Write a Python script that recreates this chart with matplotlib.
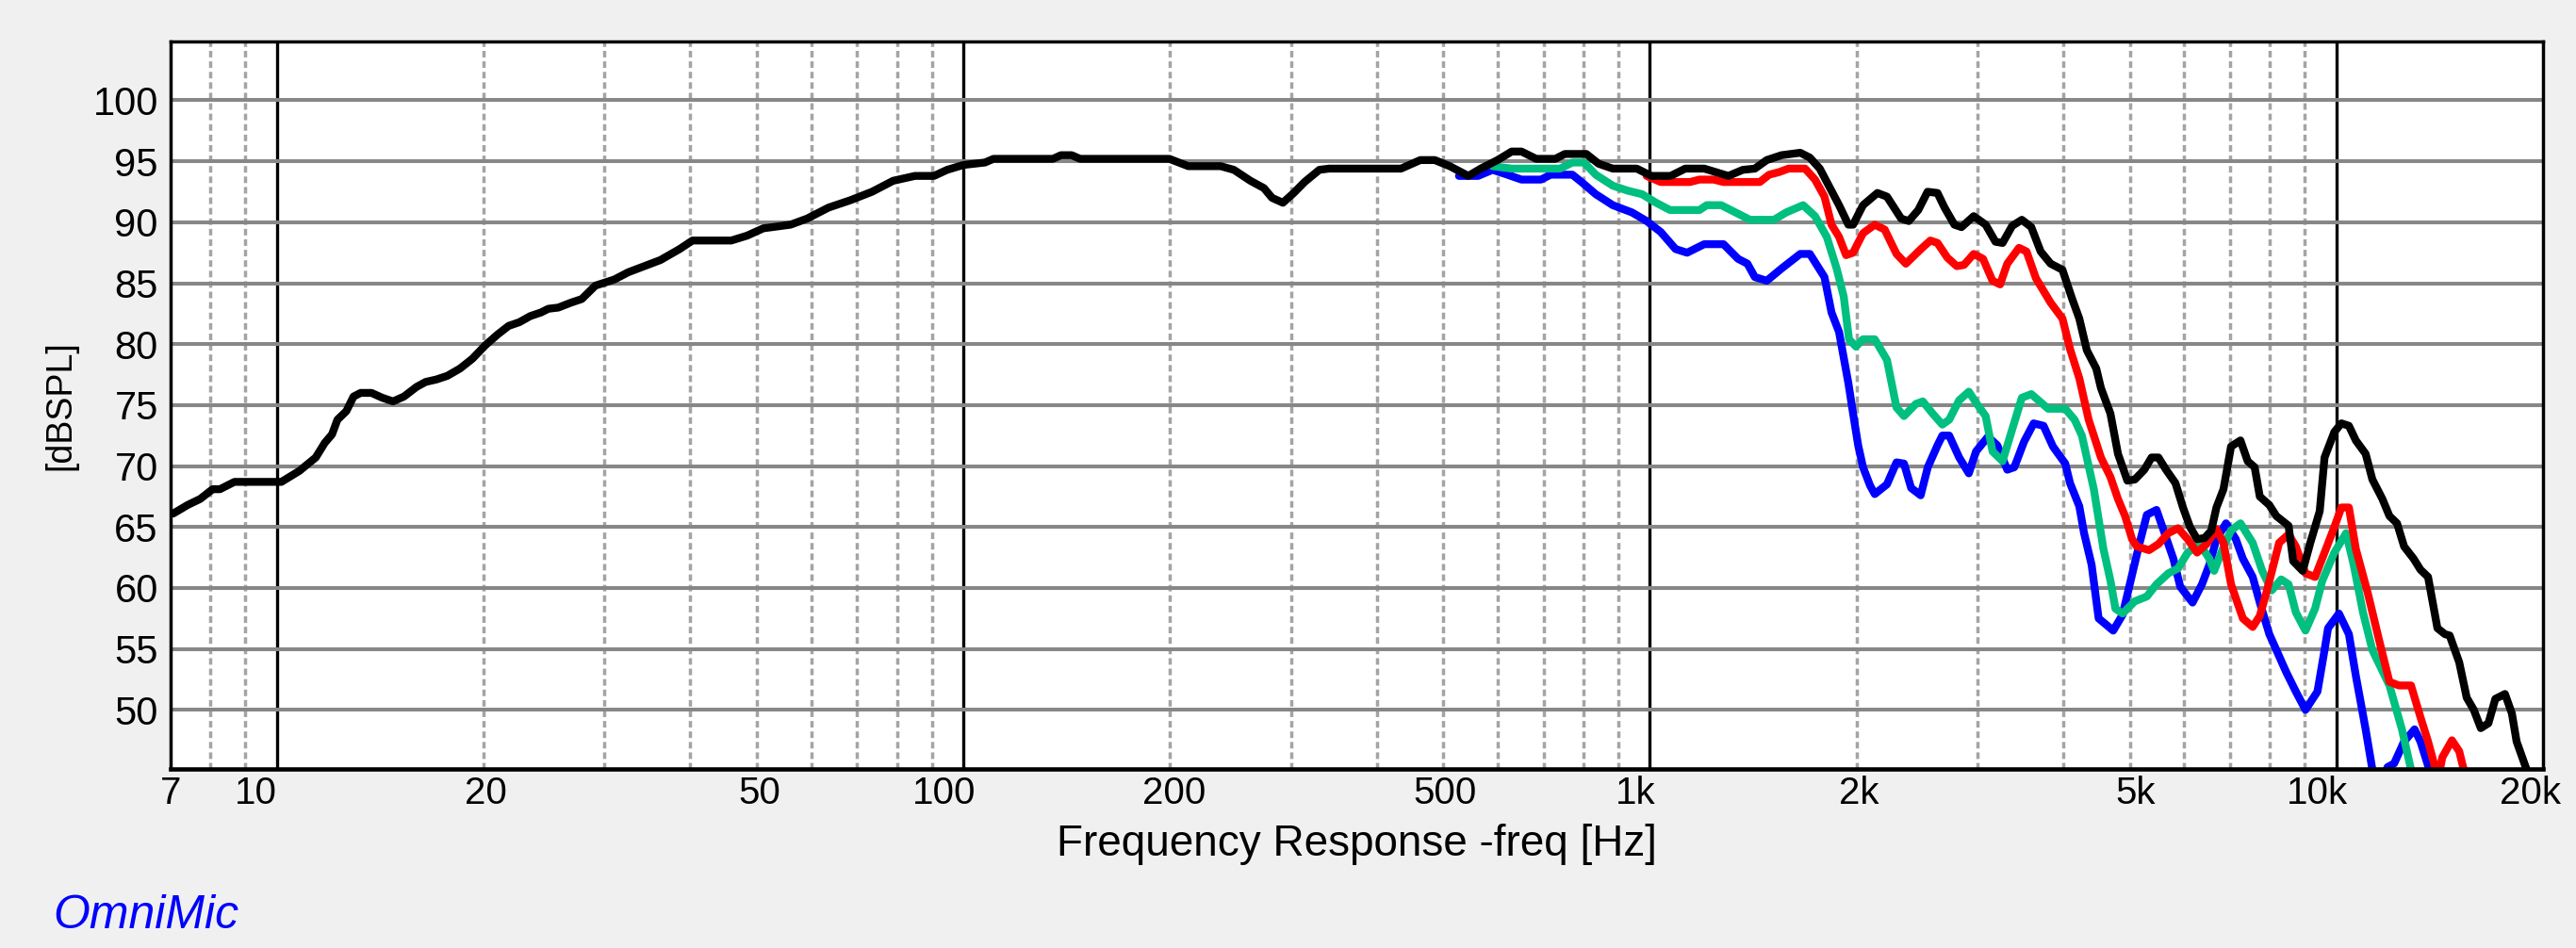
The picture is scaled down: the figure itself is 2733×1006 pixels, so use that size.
import matplotlib
matplotlib.use('Agg')
import matplotlib.pyplot as plt
from matplotlib import transforms
from matplotlib.ticker import FixedLocator, NullFormatter

plt.rcParams['font.family'] = ['Liberation Sans', 'DejaVu Sans']

# ---------------- data ----------------
black_f = [7.06, 7.41, 7.73, 8.06, 8.26, 8.67, 8.99, 10.15, 10.78, 11.39, 11.74, 12.03, 12.25, 12.62, 12.93, 13.24,
           13.73, 14.24, 14.76, 15.31, 15.98, 16.47, 17.07, 17.71, 18.48, 19.26, 20.11, 20.97, 21.76, 22.55, 23.39,
           24.25, 24.85, 25.7, 26.8, 27.8, 29.1, 31.0, 32.5, 34.3, 36.2, 38.6, 40.3, 45.9, 48.4, 51.1, 56.0, 59.2,
           63.6, 68.4, 73.6, 79.0, 85.0, 90.6, 94.7, 100, 107.5, 110.6, 135, 138.7, 143.8, 147.9, 199.5, 212.6, 237,
           247.7, 261.9, 274, 281.6, 292, 302.8, 314, 330, 341, 434, 463, 486, 511, 544, 567, 600, 629, 650, 683, 728,
           752, 808, 842, 883, 957, 1005, 1072, 1126, 1200, 1301, 1366, 1422, 1480, 1555, 1656, 1710, 1768, 1826,
           1886, 1946, 1977, 2044, 2145, 2215, 2323, 2383, 2460, 2538, 2624, 2687, 2777, 2844, 2963, 3084, 3187, 3264,
           3371, 3482, 3594, 3709, 3835, 3990, 4123, 4222, 4330, 4469, 4540, 4687, 4807, 4961, 5088, 5251, 5380, 5506,
           5648, 5829, 5978, 6121, 6268, 6430, 6573, 6688, 6848, 7024, 7249, 7427, 7603, 7735, 7987, 8176, 8519, 8652,
           8932, 9163, 9457, 9611, 9933, 10171, 10430, 10675, 11032, 11284, 11669, 11949, 12257, 12551, 12957, 13258,
           13601, 14035, 14399, 14623, 15099, 15484, 15855, 16233, 16653, 17045, 17605, 18018, 18305, 18928, 19500]
black_db = [66.1, 66.8, 67.3, 68.1, 68.1, 68.7, 68.7, 68.7, 69.6, 70.7, 71.9, 72.6, 73.8, 74.5, 75.7, 76.0, 76.0,
            75.6, 75.3, 75.7, 76.5, 76.9, 77.1, 77.4, 78.0, 78.8, 79.9, 80.8, 81.5, 81.8, 82.3, 82.6, 82.9, 83.0, 83.4,
            83.7, 84.8, 85.3, 85.9, 86.4, 86.9, 87.8, 88.5, 88.5, 88.9, 89.5, 89.8, 90.3, 91.2, 91.8, 92.5, 93.4, 93.8,
            93.8, 94.3, 94.7, 94.9, 95.2, 95.2, 95.5, 95.5, 95.2, 95.2, 94.6, 94.6, 94.3, 93.4, 92.8, 92.0, 91.6, 92.4,
            93.3, 94.3, 94.4, 94.4, 95.1, 95.1, 94.6, 93.8, 94.4, 95.1, 95.8, 95.8, 95.2, 95.2, 95.6, 95.6, 94.8, 94.4,
            94.4, 93.8, 93.8, 94.4, 94.4, 93.8, 94.3, 94.4, 95.1, 95.5, 95.7, 95.3, 94.4, 92.9, 91.4, 89.8, 89.8, 91.4,
            92.4, 92.1, 90.3, 90.1, 91.0, 92.5, 92.4, 91.2, 89.8, 89.6, 90.5, 89.8, 88.4, 88.3, 89.7, 90.2, 89.6, 87.6,
            86.6, 86.1, 83.7, 82.1, 79.5, 78.0, 76.4, 74.3, 71.0, 68.8, 68.9, 69.7, 70.7, 70.7, 69.7, 68.6, 66.6, 65.0,
            64.0, 64.1, 64.7, 66.6, 68.1, 71.6, 72.1, 70.4, 69.9, 67.5, 66.8, 65.9, 65.1, 62.2, 61.4, 63.7, 66.3, 70.7,
            72.8, 73.5, 73.3, 72.1, 71.0, 68.9, 67.3, 65.9, 65.3, 63.4, 62.4, 61.5, 60.9, 56.7, 56.2, 56.1, 53.9, 51.0,
            50.0, 48.5, 48.9, 50.9, 51.3, 49.7, 47.4, 45.1, 43.0]

red_f = [989, 1037, 1144, 1181, 1238, 1280, 1446, 1492, 1540, 1592, 1683, 1740, 1796, 1839, 1886, 1931, 1977, 2044,
         2126, 2198, 2287, 2360, 2482, 2562, 2624, 2712, 2799, 2868, 2963, 3057, 3156, 3237, 3316, 3449, 3537, 3651,
         3835, 3990, 4093, 4222, 4357, 4540, 4687, 4807, 4923, 5040, 5121, 5335, 5506, 5693, 5880, 6073, 6268, 6469,
         6688, 6848, 7024, 7308, 7553, 7735, 7924, 8253, 8519, 8729, 9016, 9310, 9611, 9933, 10171, 10430, 10675,
         11109, 11578, 11949, 12334, 12845, 13258, 13601, 13937, 14100, 14266, 14735, 15099, 15330, 15600]
red_db = [93.8, 93.3, 93.3, 93.5, 93.5, 93.3, 93.3, 93.9, 94.1, 94.4, 94.4, 93.5, 92.1, 89.8, 88.8, 87.3, 87.5, 89.1,
          89.8, 89.4, 87.4, 86.6, 87.8, 88.5, 88.3, 87.1, 86.4, 86.5, 87.4, 87.0, 85.2, 84.9, 86.6, 87.9, 87.6, 85.4,
          83.4, 82.1, 79.6, 77.2, 73.8, 70.7, 69.1, 67.3, 65.9, 64.0, 63.4, 63.1, 63.6, 64.5, 64.9, 64.0, 62.9, 63.6,
          64.8, 63.7, 60.3, 57.5, 56.8, 57.7, 59.8, 63.7, 64.4, 63.4, 61.2, 60.9, 62.9, 65.0, 66.6, 66.6, 63.2, 59.6,
          55.4, 52.3, 52.0, 52.0, 49.4, 47.4, 45.2, 44.6, 46.1, 47.5, 46.6, 45.1, 43.0]

green_f = [590, 629, 740, 771, 802, 834, 883, 927, 974, 1021, 1070, 1181, 1210, 1270, 1344, 1399, 1516, 1579, 1672,
           1740, 1810, 1871, 1916, 1950, 1996, 2044, 2126, 2215, 2287, 2345, 2441, 2498, 2582, 2667, 2729, 2822, 2915,
           2986, 3084, 3156, 3264, 3371, 3482, 3594, 3804, 4028, 4156, 4259, 4433, 4578, 4687, 4766, 4882, 5085, 5296,
           5470, 5693, 5880, 6073, 6323, 6531, 6636, 6797, 7020, 7249, 7553, 7798, 8050, 8309, 8519, 8729, 9016, 9310,
           9541, 9933, 10332, 10598, 10934, 11284, 11949, 12460, 12845, 13200]
green_db = [94.6, 94.4, 94.4, 94.9, 94.9, 93.9, 93.0, 92.6, 92.3, 91.6, 91.0, 91.0, 91.4, 91.4, 90.7, 90.2, 90.2,
            90.8, 91.4, 90.5, 88.8, 86.2, 83.9, 80.4, 79.8, 80.4, 80.4, 78.7, 74.8, 74.1, 75.1, 75.3, 74.3, 73.4, 73.8,
            75.4, 76.1, 75.2, 74.1, 71.2, 70.4, 73.0, 75.6, 75.9, 74.7, 74.7, 73.8, 72.5, 68.1, 63.2, 60.6, 58.3, 57.9,
            58.9, 59.3, 60.3, 61.2, 61.6, 62.9, 63.6, 62.4, 61.4, 62.9, 64.7, 65.3, 63.7, 61.4, 59.8, 60.7, 60.3, 58.0,
            56.5, 58.3, 60.6, 62.9, 64.5, 61.9, 58.0, 54.9, 52.0, 48.4, 45.1, 43.0]

blue_f = [527, 562, 590, 620, 650, 694, 717, 771, 795, 834, 883, 942, 989, 1037, 1090, 1133, 1200, 1280, 1344, 1387,
          1422, 1480, 1555, 1656, 1710, 1796, 1839, 1886, 1946, 1977, 2011, 2044, 2093, 2126, 2215, 2287, 2345, 2402,
          2480, 2540, 2624, 2667, 2729, 2822, 2915, 2986, 3108, 3207, 3316, 3395, 3508, 3623, 3745, 3865, 4028, 4093,
          4222, 4290, 4400, 4505, 4731, 4882, 5040, 5170, 5296, 5470, 5604, 5788, 5924, 6173, 6371, 6531, 6688, 6907,
          7137, 7308, 7553, 7735, 7987, 8253, 8451, 8729, 9016, 9386, 9611, 9725, 10087, 10430, 10675, 11032, 11284,
          11550, 11873, 12139, 12551, 13000, 13258, 13657, 14000]
blue_db = [93.8, 93.8, 94.3, 93.9, 93.5, 93.5, 93.9, 93.9, 93.3, 92.3, 91.4, 90.8, 90.1, 89.2, 87.8, 87.5, 88.2,
           88.2, 87.0, 86.6, 85.5, 85.2, 86.2, 87.4, 87.4, 85.5, 82.6, 81.0, 76.8, 74.3, 71.7, 69.9, 68.4, 67.7, 68.5,
           70.3, 70.2, 68.2, 67.6, 69.9, 71.7, 72.5, 72.5, 70.7, 69.4, 71.2, 72.4, 71.7, 69.7, 69.9, 72.0, 73.5, 73.3,
           71.6, 70.2, 68.6, 66.7, 64.5, 61.9, 57.5, 56.5, 57.8, 61.1, 63.7, 66.0, 66.4, 64.7, 62.4, 60.1, 58.8, 60.3,
           61.9, 64.0, 65.3, 64.0, 62.4, 60.9, 58.8, 56.2, 54.4, 53.1, 51.5, 50.0, 51.5, 54.9, 56.7, 57.9, 56.2, 52.8,
           48.4, 45.1, 43.5, 45.3, 45.6, 47.4, 48.4, 47.4, 45.1, 43.0]

x_tick_vals = [7, 10, 20, 50, 100, 200, 500, 1000, 2000, 5000, 10000, 20000]
x_tick_labels = ['7', '10', '20', '50', '100', '200', '500', '1k', '2k', '5k', '10k', '20k']
y_tick_vals = [50, 55, 60, 65, 70, 75, 80, 85, 90, 95, 100]
decade_lines = [10, 100, 1000, 10000]
minor_lines = [8, 9, 20, 30, 40, 50, 60, 70, 80, 90, 200, 300, 400, 500, 600, 700, 800, 900,
               2000, 3000, 4000, 5000, 6000, 7000, 8000, 9000]

# label nudges (pixels), mimic the original software's label placement
x_label_nudge = {7: 0, 10: -22, 20: 2, 50: 3, 100: -21, 200: 4, 500: 2, 1000: -15,
                 2000: 3, 5000: 6, 10000: -20, 20000: -13}

# ---------------- figure ----------------
W, H = 2733, 1006
fig = plt.figure(figsize=(W / 100, H / 100), dpi=100, facecolor='#f0f0f0')
ax = fig.add_axes([181 / W, (H - 816) / H, (2698 - 181) / W, (816 - 44) / H])
ax.set_facecolor('white')
ax.set_xscale('log')
ax.set_xlim(7, 20000)
ax.set_ylim(45.15, 104.83)

ax.xaxis.set_major_locator(FixedLocator(decade_lines))
ax.xaxis.set_minor_locator(FixedLocator(minor_lines))
ax.xaxis.set_major_formatter(NullFormatter())
ax.xaxis.set_minor_formatter(NullFormatter())
ax.set_yticks(y_tick_vals)
ax.set_yticklabels([str(v) for v in y_tick_vals])
ax.tick_params(axis='both', which='both', length=0)
ax.tick_params(axis='y', labelsize=30, pad=9.5, labelcolor='black')

ax.set_axisbelow(True)
ax.grid(True, axis='y', which='major', color='#878787', lw=2.9, ls='-')
ax.grid(True, axis='x', which='major', color='black', lw=2.4, ls='-')
ax.grid(True, axis='x', which='minor', color='#a4a4a4', lw=2.5, ls=(0, (2.0, 1.2)))

for side in ['left', 'right', 'top']:
    ax.spines[side].set_linewidth(2.5)
    ax.spines[side].set_color('black')
ax.spines['bottom'].set_linewidth(3.3)
ax.spines['bottom'].set_color('black')

line_kw = dict(lw=6.0, solid_joinstyle='round', solid_capstyle='round')
ax.plot(blue_f, blue_db, color='#0000ff', **line_kw)
ax.plot(green_f, green_db, color='#00bf80', **line_kw)
ax.plot(red_f, red_db, color='#ff0000', **line_kw)
ax.plot(black_f, black_db, color='black', **line_kw)

# x tick labels
base = transforms.blended_transform_factory(ax.transData, ax.transAxes)
for v, lab in zip(x_tick_vals, x_tick_labels):
    off = transforms.ScaledTranslation(x_label_nudge.get(v, 0) / 100, 0, fig.dpi_scale_trans)
    ax.text(v, -(853 - 816) / 772, lab, transform=base + off, ha='center', va='baseline',
            fontsize=29, color='black', clip_on=False)

ax.set_xlabel('Frequency Response -freq [Hz]', fontsize=33, va='baseline')
ax.xaxis.set_label_coords(0.5, -(908 - 816) / 772)
ax.set_ylabel('[dBSPL]', fontsize=27, va='center')
ax.yaxis.set_label_coords((64 - 181) / 2517, 0.5)

fig.text(56 / W, (H - 985) / H, 'OmniMic', color='#0000ff', style='italic', fontsize=36,
         ha='left', va='baseline')

fig.savefig('out.png', dpi=100, facecolor=fig.get_facecolor())
